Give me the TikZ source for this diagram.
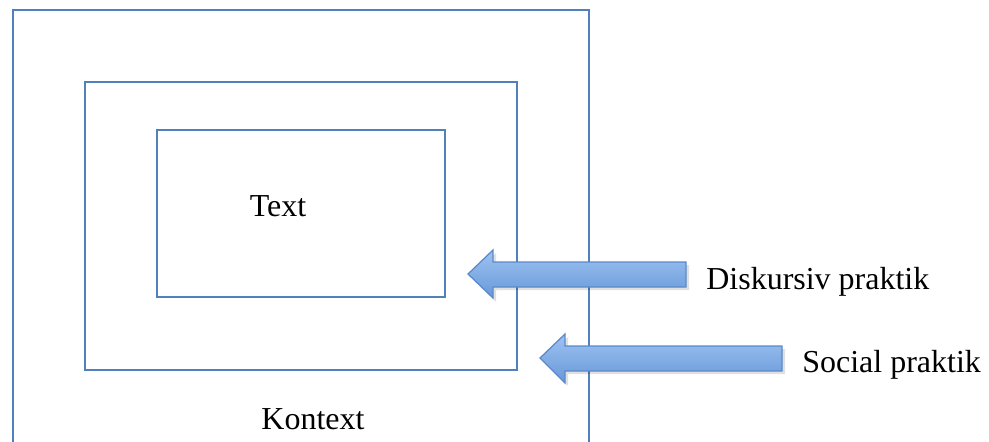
\documentclass[tikz,border=0pt]{standalone}
\usepackage{fontspec}
\setmainfont{Liberation Serif}
\definecolor{boxblue}{HTML}{4F81BD}
\definecolor{arrowtop}{HTML}{9DC3F2}
\definecolor{arrowbot}{HTML}{6898D8}
\definecolor{arrowline}{HTML}{5A8ACB}
\tikzset{
  x=0.02cm, y=0.02cm,
  frame/.style={draw=boxblue, line width=0.045cm},
  blockarrow/.style={draw=arrowline, line width=0.025cm, top color=arrowtop, bottom color=arrowbot},
  arrowshadow/.style={fill=black, opacity=0.12},
  label/.style={inner sep=0pt, font=\fontsize{18.2}{22}\selectfont}
}
\begin{document}
\begin{tikzpicture}
			%%%%% START %%%%%
			\useasboundingbox (0, 0) rectangle (989, 441);
			\clip (0, 0) rectangle (989, 441);
			\fill[white] (0, 0) rectangle (989, 441);
			
			% frames
			\draw[frame] (13, 431) rectangle (589, -20);
			\draw[frame] (85, 359) rectangle (517, 71);
			\draw[frame] (157, 311) rectangle (445, 144);
			
			% upper arrow
			\fill[arrowshadow] (471, 164) -- (496, 188) -- (496, 176) -- (689, 176) -- (689, 151) -- (496, 151) -- (496, 139) -- cycle;
			\draw[blockarrow] (468, 167) -- (493, 191) -- (493, 179) -- (686, 179) -- (686, 154) -- (493, 154) -- (493, 143) -- cycle;
			
			% lower arrow
			\fill[arrowshadow] (543, 80) -- (568, 104) -- (568, 92) -- (785, 92) -- (785, 67) -- (568, 67) -- (568, 55) -- cycle;
			\draw[blockarrow] (540, 83) -- (565, 107) -- (565, 95) -- (782, 95) -- (782, 70) -- (565, 70) -- (565, 58) -- cycle;
			
			\node[label, anchor=base] (text) at (278, 225) {Text};
			\node[label, anchor=base west] (diskursiv) at (706, 152) {Diskursiv praktik};
			\node[label, anchor=base west] (social) at (802, 69) {Social praktik};
			\node[label, anchor=base] (kontext) at (313, 12) {Kontext};
			
			%%%%% END %%%%%
		\end{tikzpicture}
\end{document}
